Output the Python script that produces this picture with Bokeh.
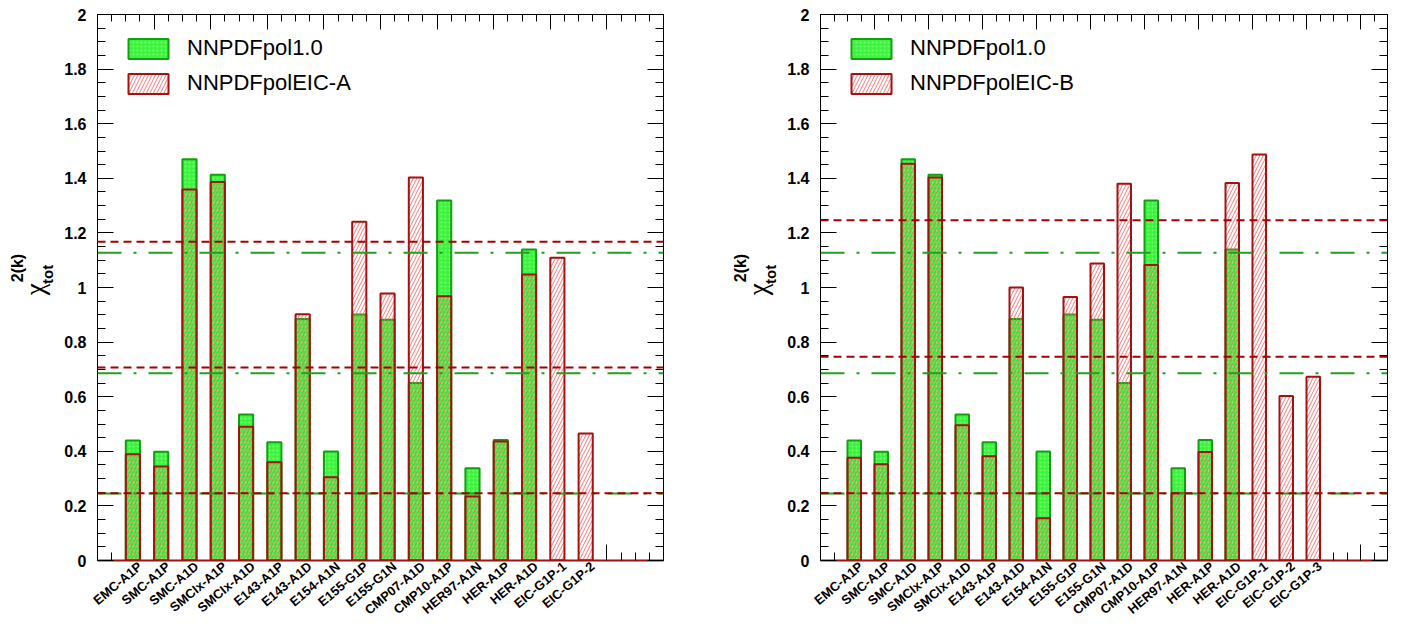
import numpy as np
from math import pi
from bokeh.plotting import figure
from bokeh.models import (FixedTicker, LinearAxis, Range1d, Legend,
                          LegendItem, Span, ColumnDataSource)
from bokeh.core.properties import value
from bokeh.layouts import row
from bokeh.embed import file_html
from bokeh.resources import INLINE

# ---------------- data ----------------
labels_a = ["EMC-A1P", "SMC-A1P", "SMC-A1D", "SMCIx-A1P", "SMCIx-A1D", "E143-A1P",
            "E143-A1D", "E154-A1N", "E155-G1P", "E155-G1N", "CMP07-A1D", "CMP10-A1P",
            "HER97-A1N", "HER-A1P", "HER-A1D", "EIC-G1P-1", "EIC-G1P-2"]
labels_b = labels_a + ["EIC-G1P-3"]

nnpdf_a = [0.440, 0.398, 1.470, 1.413, 0.535, 0.433, 0.885, 0.399, 0.901, 0.882,
           0.650, 1.319, 0.338, 0.441, 1.139, 0.0, 0.0]
eic_a = [0.389, 0.344, 1.359, 1.386, 0.490, 0.360, 0.902, 0.305, 1.241, 0.978,
         1.403, 0.968, 0.234, 0.436, 1.048, 1.109, 0.465]

nnpdf_b = [0.440, 0.398, 1.470, 1.413, 0.535, 0.433, 0.885, 0.399, 0.901, 0.882,
           0.650, 1.319, 0.338, 0.441, 1.139, 0.0, 0.0, 0.0]
eic_b = [0.376, 0.353, 1.453, 1.403, 0.495, 0.382, 1.000, 0.155, 0.965, 1.088,
         1.380, 1.082, 0.246, 0.397, 1.383, 1.487, 0.603, 0.673]

# average chi2 and +/- one sigma levels
lines_nnpdf = [0.245, 0.686, 1.127]
lines_a = [0.246, 0.707, 1.168]
lines_b = [0.246, 0.746, 1.246]

y_ticks = [0, 0.2, 0.4, 0.6, 0.8, 1, 1.2, 1.4, 1.6, 1.8, 2]
y_tick_labels = ["0", "0.2", "0.4", "0.6", "0.8", "1", "1.2", "1.4", "1.6", "1.8", "2"]

series_green = "NNPDFpol1.0"
series_a = "NNPDFpolEIC-A"
series_b = "NNPDFpolEIC-B"
y_title = ["χ", "2(k)", "tot"]   # symbol, superscript, subscript

# ---------------- style ----------------
FONT = "Liberation Sans"
GREEN_FILL = "#3af53a"
GREEN_LINE = "#12a012"
RED_LINE = "#a51010"
RED_HATCH = "#ff6060"
RED_DASH = "#a80000"
GREEN_DASH = "#22a022"
H = 626
BT, BB = 14, 66
FRAME_H = H - BT - BB
TW = 55  # width of the strip that holds the y-axis title


def hidden_labels(ax):
    ax.major_label_text_color = None
    ax.major_label_text_font_size = "1px"
    ax.major_label_standoff = 0
    return ax


def title_strip():
    t = figure(width=TW, height=H, x_range=Range1d(0, TW), y_range=Range1d(0, H),
               x_axis_type=None, y_axis_type=None, output_backend="svg",
               toolbar_location=None, min_border=0)
    t.outline_line_color = None
    t.background_fill_color = "white"
    t.border_fill_color = "white"
    # pixel positions inside the strip (y measured from bottom)
    t.text(x=[34], y=[H - 322], text=[y_title[0]], angle=pi / 2,
           text_font=value("Liberation Serif"), text_font_size="27px",
           text_align="left", text_baseline="middle", text_color="black")
    t.text(x=[17], y=[H - 307], text=[y_title[1]], angle=pi / 2,
           text_font=value(FONT), text_font_style="bold", text_font_size="16px",
           text_align="left", text_baseline="middle", text_color="black")
    t.text(x=[47], y=[H - 309], text=[y_title[2]], angle=pi / 2,
           text_font=value(FONT), text_font_style="bold", text_font_size="15px",
           text_align="left", text_baseline="middle", text_color="black")
    return t


def panel(names, green, red, g_lines, r_lines, red_name, width, bl, br):
    n = len(names)
    nbins = n + 3
    p = figure(width=width, height=H, x_range=Range1d(0, nbins), y_range=Range1d(0, 2),
               x_axis_type=None, y_axis_type=None, output_backend="svg",
               toolbar_location=None, min_border_left=bl, min_border_right=br,
               min_border_top=BT, min_border_bottom=BB)
    p.outline_line_color = "black"
    p.outline_line_width = 1
    p.background_fill_color = "white"
    p.border_fill_color = "white"

    xpos = np.arange(n) + 1.25
    src = ColumnDataSource(dict(x=xpos, g=green, r=red))
    rg = p.vbar(x="x", top="g", bottom=0, width=0.5, source=src,
                fill_color=GREEN_FILL, line_color=GREEN_LINE, line_width=2,
                hatch_pattern=".", hatch_color="white", hatch_alpha=0.35, hatch_scale=4)
    rr = p.vbar(x="x", top="r", bottom=0, width=0.5, source=src,
                fill_alpha=0, line_color=RED_LINE, line_width=2,
                hatch_pattern="/", hatch_color=RED_HATCH, hatch_alpha=0.85,
                hatch_scale=7, hatch_weight=1)

    for v in g_lines:
        p.add_layout(Span(location=v, dimension="width", line_color=GREEN_DASH,
                          line_width=2, line_dash="24 12 3 12"))
    for v in r_lines:
        p.add_layout(Span(location=v, dimension="width", line_color=RED_DASH,
                          line_width=2, line_dash="8 5"))

    # bottom tick axis
    xt_major = [float(t) for t in range(0, nbins + 1, 2) if t >= n + 1]
    xt_minor = [0.5] + [t / 2 for t in range(2 * (n + 1), 2 * nbins) if t % 4 != 0]
    xt = LinearAxis(ticker=FixedTicker(ticks=xt_major, minor_ticks=xt_minor),
                    major_tick_in=16, major_tick_out=0, minor_tick_in=8, minor_tick_out=0,
                    axis_line_color=RED_LINE, axis_line_width=2,
                    major_tick_line_color="black", minor_tick_line_color="black")
    p.add_layout(hidden_labels(xt), "below")

    # bottom labels axis
    lab_pos = [k + 1.5 for k in range(n)]
    xl = LinearAxis(ticker=FixedTicker(ticks=lab_pos, minor_ticks=[]),
                    major_label_overrides={pos: nm for pos, nm in zip(lab_pos, names)},
                    major_label_orientation=40 * pi / 180, major_tick_in=0, major_tick_out=0,
                    axis_line_color=None, major_tick_line_color=None,
                    minor_tick_line_color=None,
                    major_label_text_font=FONT, major_label_text_font_style="bold",
                    major_label_text_font_size="13px", major_label_standoff=4,
                    major_label_text_color="black")
    p.add_layout(xl, "below")

    # top axis
    xtop = LinearAxis(ticker=FixedTicker(ticks=[float(t) for t in range(0, nbins + 1, 2)],
                                         minor_ticks=[t / 2 for t in range(1, 2 * nbins) if t % 4 != 0]),
                      major_tick_in=15, major_tick_out=0, minor_tick_in=7, minor_tick_out=0)
    p.add_layout(hidden_labels(xtop), "above")

    y_minor = [round(0.05 * i, 2) for i in range(41) if i % 4 != 0]
    ya = LinearAxis(ticker=FixedTicker(ticks=y_ticks, minor_ticks=y_minor),
                    major_label_overrides={t: s for t, s in zip(y_ticks, y_tick_labels)},
                    major_tick_in=16, major_tick_out=0, minor_tick_in=8, minor_tick_out=0,
                    major_label_text_font=FONT, major_label_text_font_style="bold",
                    major_label_text_font_size="16px", major_label_standoff=11,
                    major_label_text_color="black")
    p.add_layout(ya, "left")
    yr = LinearAxis(ticker=FixedTicker(ticks=y_ticks, minor_ticks=y_minor),
                    major_tick_in=16, major_tick_out=0, minor_tick_in=8, minor_tick_out=0)
    p.add_layout(hidden_labels(yr), "right")

    legend = Legend(items=[LegendItem(label=series_green, renderers=[rg]),
                           LegendItem(label=red_name, renderers=[rr])],
                    location=(26, FRAME_H - 22 - 60), glyph_width=50, glyph_height=25,
                    spacing=9, padding=0, margin=0, label_standoff=14,
                    label_text_font=FONT, label_text_font_size="22px",
                    label_text_color="black",
                    border_line_color=None, background_fill_alpha=0)
    p.add_layout(legend)
    return p


p1 = panel(labels_a, nnpdf_a, eic_a, lines_nnpdf, lines_a, series_a, 723 - TW, 97 - TW, 60)
p2 = panel(labels_b, nnpdf_b, eic_b, lines_nnpdf, lines_b, series_b, 680 - TW, 97 - TW, 16)
layout = row(title_strip(), p1, title_strip(), p2)

open("out.html", "w").write(file_html(layout, INLINE))
